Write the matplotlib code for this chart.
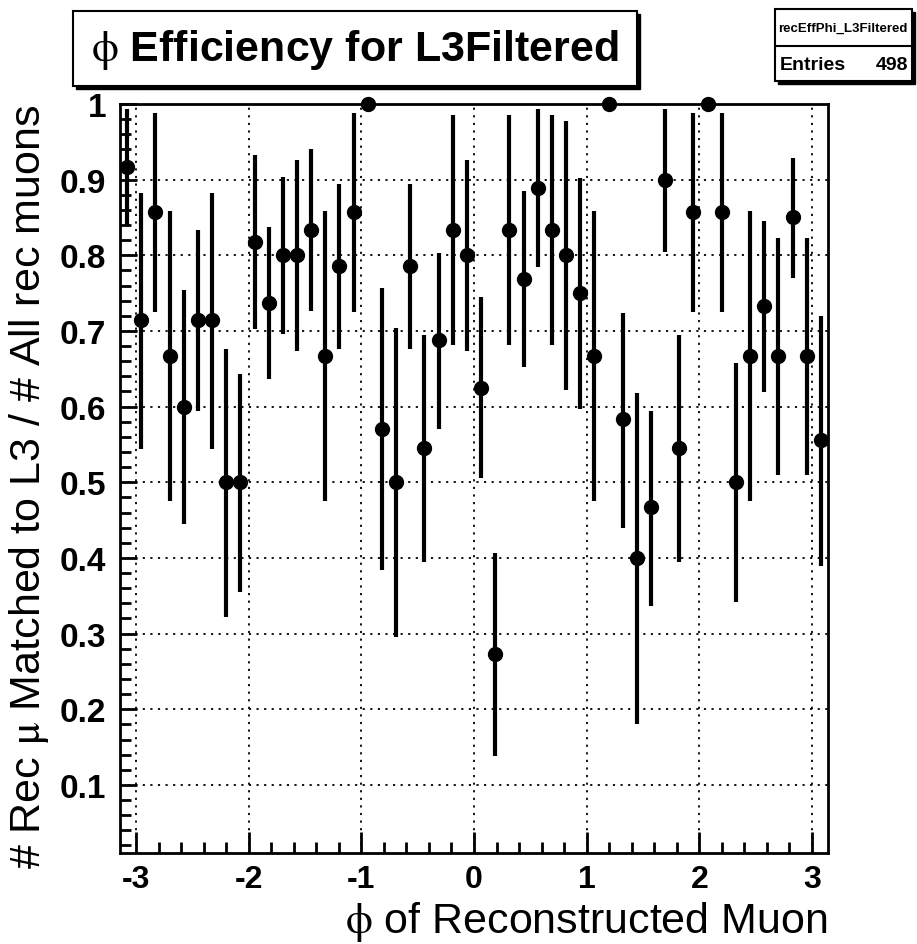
import numpy as np
import matplotlib
matplotlib.use("Agg")
import matplotlib.pyplot as plt
from matplotlib.patches import Rectangle
from matplotlib.ticker import MultipleLocator

plt.rcParams['font.family'] = ['Liberation Sans', 'DejaVu Sans']
plt.rcParams['axes.unicode_minus'] = False
plt.rcParams['mathtext.fontset'] = 'stix'

# 50 bins over [-pi, pi]
n_bins = 50
eff = [0.917, 0.714, 0.857, 0.667, 0.600, 0.714, 0.714, 0.500, 0.500, 0.818,
       0.737, 0.800, 0.800, 0.833, 0.667, 0.786, 0.857, 1.000, 0.571, 0.500,
       0.786, 0.545, 0.688, 0.833, 0.800, 0.625, 0.273, 0.833, 0.769, 0.889,
       0.833, 0.800, 0.750, 0.667, 1.000, 0.583, 0.400, 0.467, 0.900, 0.545,
       0.857, 1.000, 0.857, 0.500, 0.667, 0.733, 0.667, 0.850, 0.667, 0.556]
err_hi = [0.994, 0.883, 0.988, 0.858, 0.754, 0.834, 0.883, 0.676, 0.643, 0.933,
          0.837, 0.903, 0.926, 0.940, 0.858, 0.894, 0.988, 1.000, 0.757, 0.704,
          0.894, 0.695, 0.803, 0.985, 0.926, 0.745, 0.406, 0.985, 0.885, 0.993,
          0.985, 0.978, 0.902, 0.858, 1.000, 0.724, 0.618, 0.594, 0.994, 0.695,
          0.988, 1.000, 0.988, 0.658, 0.858, 0.846, 0.823, 0.928, 0.823, 0.720]
err_lo = [0.839, 0.544, 0.725, 0.475, 0.445, 0.594, 0.544, 0.322, 0.355, 0.703,
          0.636, 0.696, 0.673, 0.726, 0.475, 0.676, 0.725, 1.000, 0.384, 0.296,
          0.676, 0.395, 0.571, 0.682, 0.673, 0.505, 0.138, 0.682, 0.653, 0.784,
          0.682, 0.622, 0.597, 0.475, 1.000, 0.440, 0.180, 0.337, 0.805, 0.395,
          0.725, 1.000, 0.725, 0.342, 0.475, 0.619, 0.510, 0.770, 0.510, 0.389]

edges = np.linspace(-np.pi, np.pi, n_bins + 1)
phi = 0.5 * (edges[:-1] + edges[1:])
eff = np.array(eff)
yerr = [eff - np.array(err_lo), np.array(err_hi) - eff]

fig = plt.figure(figsize=(9.17, 9.45), dpi=100)
ax = fig.add_axes([0.1309, 0.0963, 0.772, 0.7926])

ax.errorbar(phi, eff, yerr=yerr, fmt='o', color='black', ms=10,
            elinewidth=3, capsize=0, zorder=3, clip_on=False)

ax.set_xlim(-np.pi, np.pi)
ax.set_ylim(0.01, 1.0)
ax.xaxis.set_major_locator(MultipleLocator(1))
ax.xaxis.set_minor_locator(MultipleLocator(0.2))
ax.yaxis.set_minor_locator(MultipleLocator(0.02))
ax.set_yticks(np.arange(0.1, 1.01, 0.1))
ax.set_yticklabels(['0.1', '0.2', '0.3', '0.4', '0.5', '0.6', '0.7', '0.8', '0.9', '1'])

ax.grid(True, which='major', color='black', linestyle=(0, (1.2, 3)), linewidth=1.3)
ax.tick_params(which='both', direction='in', top=False, right=False, width=2)
ax.tick_params(axis='x', which='major', length=15, pad=8, labelsize=23)
ax.tick_params(axis='x', which='minor', length=8)
ax.tick_params(axis='y', which='major', length=12, pad=10, labelsize=24)
ax.tick_params(axis='y', which='minor', length=8)
for lab in ax.get_xticklabels() + ax.get_yticklabels():
    lab.set_fontweight('bold')
for s in ax.spines.values():
    s.set_linewidth(2)

ax.set_xlabel(r'$\mathrm{\phi}$ of Reconstructed Muon', fontsize=31, loc='right')
ax.set_ylabel(r'# Rec $\mathrm{\mu}$ Matched to L3 / # All rec muons', fontsize=31,
              loc='top')
ax.xaxis.set_label_coords(1.0, -0.061)
ax.yaxis.set_label_coords(-0.098, 1.0)

# title box with shadow
W, H = 917.0, 945.0
def fbox(x0, y0, x1, y1, shadow=3):
    fig.patches.append(Rectangle((x0 / W + shadow / W, 1 - y1 / H - shadow / H),
                                 (x1 - x0) / W, (y1 - y0) / H, transform=fig.transFigure,
                                 facecolor='black', edgecolor='black', lw=1))
    fig.patches.append(Rectangle((x0 / W, 1 - y1 / H), (x1 - x0) / W, (y1 - y0) / H,
                                 transform=fig.transFigure, facecolor='white',
                                 edgecolor='black', lw=1.5))

fbox(73, 12, 637, 87)
fig.text(355 / W, 1 - 50 / H, r'$\mathrm{\phi}$ Efficiency for L3Filtered', fontsize=31,
         fontweight='bold', ha='center', va='center')

fbox(775, 10, 912, 82)
fig.patches.append(Rectangle((775 / W, 1 - 47 / H), 137 / W, 0, transform=fig.transFigure,
                             edgecolor='black', lw=1.5, fill=False))
fig.text(843 / W, 1 - 29 / H, 'recEffPhi_L3Filtered', fontsize=9.5,
         fontweight='bold', ha='center', va='center')
fig.text(780 / W, 1 - 65 / H, 'Entries', fontsize=14, fontweight='bold',
         ha='left', va='center')
fig.text(908 / W, 1 - 65 / H, '498', fontsize=14, fontweight='bold',
         ha='right', va='center')

fig.savefig('out.png', dpi=100)
